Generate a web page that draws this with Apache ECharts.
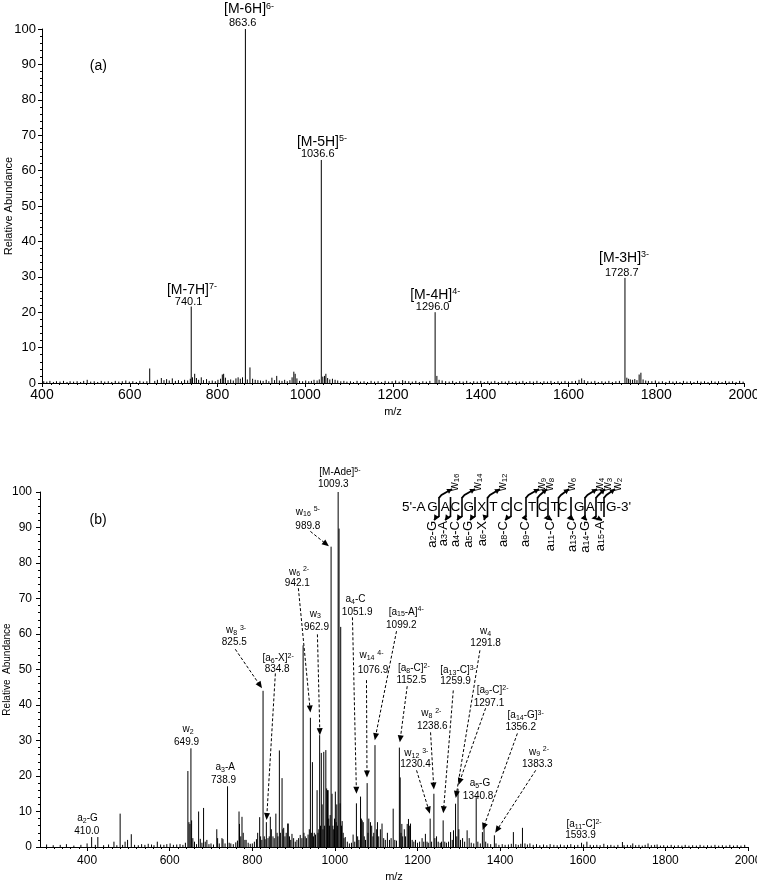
<!DOCTYPE html>
<html>
<head>
<meta charset="utf-8">
<script src="https://cdn.jsdelivr.net/npm/echarts@6/dist/echarts.min.js"></script>
<style>
html,body{margin:0;padding:0;background:#fff;}
#chart{width:757px;height:884px;}
</style>
</head>
<body>
<div id="chart"></div>
<script>
const FONT = '"Liberation Sans", Arial, Helvetica, sans-serif';

// ================= DATA: panel (a) =================
const xTicksA = [400, 600, 800, 1000, 1200, 1400, 1600, 1800, 2000];
const yTicks = [0, 10, 20, 30, 40, 50, 60, 70, 80, 90, 100];
const mainPeaksA = [[740.1, 21.6], [863.6, 100], [1036.6, 63], [1296.0, 20], [1728.7, 29.7]];
const minorPeaksA = [[645.5, 4.1], [874, 4.4], [974, 3.2], [1765, 2.9], [1761, 2.4], [748, 2.6], [814, 2.6], [1047, 2.6]];
const noiseA = [
[404,0.5],[411,0.4],[418,0.6],[426,0.3],[433,0.5],[441,0.4],[449,0.6],[457,0.3],[464,0.5],[472,0.4],
[480,0.5],[488,0.3],[495,0.6],[503,0.9],[511,0.4],[519,0.5],[527,0.3],[535,0.6],[543,0.4],[551,0.5],
[559,0.3],[567,0.6],[575,0.4],[583,0.5],[591,0.7],[599,0.4],[607,0.5],[615,0.3],[623,0.6],[631,0.4],
[639,0.5],[657,0.6],[663,0.9],[672,1.4],[678,0.8],[684,1.1],[690,0.7],[697,1.3],[704,0.6],[711,0.8],
[718,0.5],[725,0.9],[732,0.7],[738,1.2],[743,1.6],[752,1.4],[757,0.9],[763,1.6],[768,0.8],[775,1.1],
[781,0.6],[788,0.7],[795,0.5],[801,0.9],[807,1.2],[811,2.4],[818,1.5],[824,0.8],[830,1.0],[836,0.7],
[842,1.3],[847,1.6],[852,1.2],[857,1.6],[868,1.0],[880,1.2],[886,0.9],[892,0.8],[898,0.7],[904,0.6],
[911,0.9],[917,0.5],[924,1.5],[930,0.8],[935,2.0],[941,0.7],[947,0.6],[953,0.9],[959,0.5],[965,0.8],
[970,1.6],[977,2.6],[981,1.3],[987,0.6],[994,0.5],[1001,0.7],[1008,0.5],[1014,0.6],[1020,0.9],[1027,0.7],
[1032,1.0],[1040,1.8],[1044,2.0],[1051,1.4],[1056,1.0],[1062,1.2],[1068,0.9],[1074,0.7],[1081,0.5],[1088,0.6],
[1095,0.4],[1103,0.5],[1110,0.3],[1118,0.6],[1126,0.4],[1134,0.5],[1142,0.3],[1150,0.6],[1158,0.4],[1166,0.5],
[1174,0.3],[1182,0.6],[1190,0.4],[1198,0.5],[1206,0.7],[1214,0.4],[1222,0.8],[1228,0.6],[1236,0.5],[1244,0.4],
[1252,0.6],[1260,0.3],[1268,0.5],[1276,0.4],[1284,0.6],[1300,2.0],[1305,0.9],[1312,0.7],[1320,0.5],[1328,0.4],
[1336,0.6],[1344,0.3],[1352,0.5],[1360,0.4],[1368,0.6],[1376,0.3],[1384,0.5],[1392,0.4],[1400,0.6],[1408,0.3],
[1416,0.5],[1424,0.4],[1432,0.6],[1440,0.3],[1448,0.5],[1456,0.4],[1464,0.6],[1472,0.3],[1480,0.5],[1488,0.4],
[1496,0.6],[1504,0.3],[1512,0.5],[1520,0.4],[1528,0.6],[1536,0.3],[1544,0.5],[1552,0.4],[1560,0.6],[1568,0.3],
[1576,0.5],[1584,0.4],[1592,0.6],[1600,0.4],[1608,0.5],[1616,0.6],[1624,0.9],[1630,1.3],[1636,0.8],[1644,0.5],
[1652,0.4],[1660,0.6],[1668,0.3],[1676,0.5],[1684,0.4],[1692,0.6],[1700,0.3],[1708,0.5],[1716,0.6],[1733,1.5],
[1737,1.2],[1741,1.0],[1746,0.9],[1751,1.1],[1756,0.8],[1770,1.0],[1776,0.7],[1782,0.6],[1790,0.5],[1798,0.7],
[1806,0.4],[1814,0.5],[1822,0.3],[1830,0.6],[1838,0.4],[1846,0.5],[1854,0.3],[1862,0.6],[1870,0.4],[1878,0.5],
[1886,0.3],[1894,0.6],[1902,0.4],[1910,0.5],[1918,0.3],[1926,0.6],[1934,0.4],[1942,0.5],[1950,0.3],[1958,0.6],
[1966,0.4],[1974,0.5],[1982,0.3],[1990,0.6],[1998,0.4]
];
const ionTextA = ['[M-7H]{sup|7-}', '[M-6H]{sup|6-}', '[M-5H]{sup|5-}', '[M-4H]{sup|4-}', '[M-3H]{sup|3-}'];
const valTextA = ['740.1', '863.6', '1036.6', '1296.0', '1728.7'];

// ================= DATA: panel (b) =================
const xTicksB = [400, 600, 800, 1000, 1200, 1400, 1600, 1800, 2000];
const peaksB = [
[302,0.7],[318,0.5],[335,0.6],[350,0.8],[368,0.4],[385,0.6],[400,1.0],[411,2.8],[420,0.6],[426,2.8],
[440,0.5],[452,0.7],[465,1.5],[472,0.5],[480,9.4],[486,0.6],[492,1.5],[498,2.0],[507,3.6],[515,0.6],
[524,0.5],[532,0.8],[540,0.6],[548,0.9],[556,0.7],[562,0.5],[570,1.5],[578,0.7],[586,0.6],[593,0.8],
[601,1.0],[609,0.6],[617,0.7],[625,0.8],[632,0.6],[638,1.2],[644,21.4],[646.5,7.0],[649,6.5],[651.4,27.8],
[653,7.5],[656,2.5],[660,1.5],[665,0.8],[670,10.0],[674,2.3],[678,1.2],[682,11.0],[686,1.5],[690,2.0],
[695,0.8],[700,1.0],[706,0.7],[714,5.0],[716,2.5],[720,1.0],[726.5,2.5],[729,2.2],[734,1.0],[740,17.1],
[744,1.2],[748,1.0],[754,0.8],[760,1.3],[764,1.8],[767.8,10.0],[769,6.5],[772,3.0],[775,8.5],[778,4.0],
[782,2.0],[785,2.0],[790,1.2],[795,0.9],[800,1.0],[805,1.5],[810,2.2],[813,4.0],[817.8,8.4],[820,3.0],
[823,2.0],[826,44.0],[829,3.0],[831,2.2],[834,7.0],[838,2.5],[841,3.0],[843.6,8.5],[846,5.0],[850,3.0],
[853,2.5],[857,9.4],[860,4.0],[862,3.0],[865.5,27.2],[868,4.0],[872,19.4],[874,5.0],[876,5.4],[879,3.0],
[882,4.0],[885.6,6.6],[887,6.6],[890,3.0],[893,2.0],[896,3.7],[900,2.5],[904,1.5],[908,2.0],[912,2.5],
[916,3.4],[920,2.5],[923,56.8],[925,4.0],[928,3.0],[931,2.5],[935,3.5],[938,5.0],[940.6,36.4],[943,4.0],
[945.5,23.9],[948,3.0],[950,4.0],[953,3.5],[956.8,16.0],[959,4.0],[961,5.0],[963,31.5],[965,6.0],[967,26.5],
[969,12.0],[971,5.0],[973,26.8],[975,6.0],[978,27.3],[980,16.5],[982,16.0],[983.5,16.0],[985,8.0],[987,6.0],
[988.5,9.0],[990.7,84.6],[993,15.0],[995,6.0],[997,5.0],[999,8.0],[1001,15.6],[1003,7.0],[1004.5,12.0],[1006,6.0],
[1007.8,100],[1010,89.7],[1012.6,12.3],[1014,62.0],[1016,6.0],[1017.5,7.3],[1020,4.0],[1022,2.5],[1025,2.8],[1030,1.5],
[1035,1.0],[1040,1.2],[1044,3.5],[1048,1.5],[1052,12.3],[1055,3.0],[1058,2.0],[1062,14.2],[1064,8.0],[1066,7.5],
[1068.5,7.0],[1071,3.0],[1074,2.0],[1078,18.0],[1080,4.0],[1082,8.0],[1086,7.0],[1089,6.0],[1092,3.0],[1094,4.0],
[1097,28.7],[1101,5.0],[1103,7.0],[1106,3.0],[1110,5.0],[1114,6.6],[1118,2.5],[1122,2.0],[1127,4.0],[1132,2.0],
[1136,2.5],[1141,10.8],[1145,2.0],[1149,1.8],[1156,28.0],[1158,19.6],[1160,4.0],[1162,6.5],[1164,3.0],[1168,5.0],
[1171,3.0],[1175,6.5],[1178,7.9],[1181,6.0],[1183,6.6],[1187,2.0],[1191,1.5],[1195,2.0],[1200,1.2],[1205,1.5],
[1211,2.5],[1215,1.5],[1219,3.7],[1223,1.5],[1226,1.2],[1230.5,8.0],[1234,1.5],[1239.6,15.0],[1242,2.5],[1246,3.0],
[1250,1.5],[1255,1.2],[1258,1.5],[1262,7.5],[1266,1.5],[1270,1.2],[1275,1.5],[1280,4.2],[1284,2.0],[1287,4.7],
[1292,12.2],[1295,3.0],[1298,16.4],[1300,5.0],[1304,2.0],[1309,2.5],[1314,1.5],[1320,4.7],[1325,2.5],[1330,1.2],
[1336,1.0],[1342,14.0],[1346,1.5],[1352,1.0],[1357,4.2],[1361,5.5],[1365,1.5],[1370,1.0],[1377,0.8],[1386,3.3],
[1390,1.0],[1397,0.6],[1405,0.8],[1412,0.6],[1420,0.7],[1427,0.9],[1432,4.2],[1438,0.8],[1444,0.6],[1450,0.9],
[1454,5.4],[1460,1.0],[1466,0.7],[1472,1.0],[1480,0.6],[1488,0.8],[1496,0.5],[1505,0.7],[1513,0.5],[1521,0.8],
[1530,0.6],[1538,0.5],[1546,0.7],[1555,0.5],[1563,0.6],[1571,0.8],[1580,0.5],[1588,0.6],[1597,1.2],[1602,0.7],
[1610,1.5],[1618,0.6],[1626,0.5],[1634,0.6],[1642,0.5],[1651,0.9],[1660,0.5],[1668,0.6],[1676,0.4],[1685,0.6],
[1696,1.4],[1700,0.5],[1708,0.6],[1716,0.5],[1721,1.0],[1728,0.5],[1736,0.6],[1744,0.4],[1751,0.6],[1758,1.0],
[1766,0.5],[1774,0.6],[1780,0.7],[1788,0.4],[1796,0.5],[1805,0.4],[1814,0.6],[1822,0.4],[1831,0.5],[1840,0.4],
[1848,0.6],[1857,0.4],[1866,0.5],[1875,0.4],[1884,0.6],[1893,0.4],[1902,0.5],[1911,0.4],[1920,0.6],[1929,0.4],
[1938,0.5],[1947,0.4],[1956,0.6],[1965,0.4],[1974,0.5],[1983,0.4],[1992,0.6]
];
const ionTextB = ['[M-Ade]{sup|5-}','w{sub|16} {sup|5-}','w{sub|6} {sup|2-}','w{sub|3}','a{sub|4}-C','w{sub|14} {sup|4-}',
  '[a{sub|15}-A]{sup|4-}','[a{sub|8}-C]{sup|2-}','[a{sub|13}-C]{sup|3-}','w{sub|4}','[a{sub|9}-C]{sup|2-}','w{sub|8} {sup|2-}',
  'w{sub|12} {sup|3-}','a{sub|5}-G','[a{sub|14}-G]{sup|3-}','w{sub|9} {sup|2-}','[a{sub|11}-C]{sup|2-}','w{sub|8} {sup|3-}',
  '[a{sub|6}-X]{sup|2-}','w{sub|2}','a{sub|3}-A','a{sub|2}-G'];
const valTextB = ['1009.3','989.8','942.1','962.9','1051.9','1076.9','1099.2','1152.5','1259.9','1291.8','1297.1','1238.6',
  '1230.4','1340.8','1356.2','1383.3','1593.9','825.5','834.8','649.9','738.9','410.0'];

// Sequence inset
const seqText = ["5'-A","G","A","C","G","X","T","C","C","T","C","T","C","G","A","T","G-3'"];
const wFrag = ['w{sub|16}','w{sub|14}','w{sub|12}','w{sub|9}','w{sub|8}','w{sub|6}','w{sub|4}','w{sub|3}','w{sub|2}'];
const aFrag = ['a{sub|2}-G','a{sub|3}-A','a{sub|4}-C','a{sub|5}-G','a{sub|6}-X','a{sub|8}-C','a{sub|9}-C','a{sub|11}-C','a{sub|13}-C','a{sub|14}-G','a{sub|15}-A'];

// ================= LAYOUT (positions in data units / pixels) =================
const ionPosA = [[741.8,26.2],[871.9,105.5],[1038,68.1],[1296.1,24.8],[1726.7,35.2]];
const valPosA = [[734.0,22.9],[857.5,101.7],[1028.4,64.6],[1290.4,21.5],[1721.5,31.1]];
const tagPosA = [528.3, 89.4];
const ionPosB = [[1012,105.5],[934.5,94.4],[913.2,77.5],[952.7,65.7],[1049.7,69.7],[1088.5,54.0],[1172.6,66.2],[1191,50.3],
  [1298.2,49.8],[1364.8,60.8],[1381.8,44.1],[1233.5,37.7],[1197.1,26.3],[1351,17.9],[1461.8,37.1],[1494,26.8],[1603.1,6.3],
  [760.7,61.0],[862.5,53.2],[644.4,33.1],[734.5,22.5],[401.2,8.0]];
const valPosB = [[996,102.3],[934.5,90.4],[909,74.4],[955.2,61.8],[1053.8,66.2],[1092.1,49.8],[1160.7,62.5],[1185,47.0],
  [1292.1,46.8],[1364.8,57.3],[1372.8,40.6],[1235.6,34.0],[1195.2,23.3],[1346.7,14.3],[1449.7,33.8],[1490,23.2],[1594.4,3.3],
  [756.4,57.6],[860.1,50.0],[640.7,29.4],[730.4,18.8],[399.3,4.4]];
const arrowB = [null,[[940.6,88.9],[985.4,84.7]],[[911.5,72.9],[940.6,37.9]],[[957.6,59.9],[963.6,31.5]],[[1042.4,64.7],[1052.1,15.0]],
  [[1076.4,47],[1077.6,19.6]],[[1149.1,60.8],[1096.5,30.1]],[[1175,45.3],[1157.1,29.5]],[[1286.5,44.1],[1262.3,9.5]],
  [[1351,55.4],[1292.5,13.8]],[[1364.8,39.1],[1299,17.5]],[[1231.5,32.3],[1239.5,16.2]],[[1197.6,21.6],[1229.8,9.4]],null,
  [[1441.7,32.0],[1357.5,4.8]],[[1486,21.6],[1388,4.0]],null,[[758.8,55.7],[823.5,44.7]],[[855.8,48.9],[834.5,7.6]],null,null,null];
const tagPosB = [426.7, 92.0];

const seqX = [402,432.5,445.3,455.3,468.7,481.7,493.3,505.3,518,532,542.5,554.5,562.5,579.2,590.3,601.2,606];
const seqY = 507;
const wSite = [439,462,487.5,526,537.5,558.5,585,596,604];
const wLabelX = [455,478,503,542,550,572,600,608,618];
const aSite = [439,450.5,462,475,487.5,511,526,548,571,585,596];
const aLabelX = [432,443,455,468,482,503,525,550,572,585,600];

// ================= RENDER =================
function head(p0, p1, L, W) {
  const dx = p1[0]-p0[0], dy = p1[1]-p0[1];
  const len = Math.sqrt(dx*dx+dy*dy) || 1;
  const ux = dx/len, uy = dy/len, nx = -uy, ny = ux;
  const bx = p1[0]-ux*L, by = p1[1]-uy*L;
  return [[p1[0],p1[1]],[bx+nx*W/2,by+ny*W/2],[bx-nx*W/2,by-ny*W/2]];
}

function stickSeries(data, xi, yi) {
  return {
    type: 'custom', xAxisIndex: xi, yAxisIndex: yi, data: data, silent: true, clip: true,
    renderItem: function (params, api) {
      const x = api.value(0), y = api.value(1);
      const p0 = api.coord([x, 0]), p1 = api.coord([x, y]);
      return { type: 'line', shape: { x1: p0[0], y1: p0[1], x2: p1[0], y2: p1[1] },
        style: { stroke: '#000', lineWidth: 1 } };
    }
  };
}

function annSeries(ionT, valT, ionP, valP, arrows, xi, yi, f) {
  const rich = {
    sup: { fontSize: f.sup, fontFamily: FONT, verticalAlign: 'top', fill: '#000' },
    sub: { fontSize: f.sup, fontFamily: FONT, verticalAlign: 'bottom', fill: '#000' }
  };
  return {
    type: 'custom', xAxisIndex: xi, yAxisIndex: yi, data: ionP, silent: true, clip: false, z: 5,
    renderItem: function (params, api) {
      const i = params.dataIndex;
      const ci = api.coord(ionP[i]), cv = api.coord(valP[i]);
      const ch = [
        { type: 'text', x: ci[0], y: ci[1], style: { text: ionT[i], fontFamily: FONT, fontSize: f.ion,
            lineHeight: f.ion + 2, fill: '#000', align: 'center', verticalAlign: 'middle', rich: rich } },
        { type: 'text', x: cv[0], y: cv[1], style: { text: valT[i], fontFamily: FONT, fontSize: f.val,
            fill: '#000', align: 'center', verticalAlign: 'middle' } }
      ];
      const a = arrows && arrows[i];
      if (a) {
        const p0 = api.coord(a[0]), p1 = api.coord(a[1]);
        const h = head(p0, p1, 7, 6);
        const dx = p1[0]-p0[0], dy = p1[1]-p0[1], len = Math.sqrt(dx*dx+dy*dy);
        const e = [p1[0]-dx/len*6, p1[1]-dy/len*6];
        ch.push({ type: 'line', shape: { x1: p0[0], y1: p0[1], x2: e[0], y2: e[1] },
          style: { stroke: '#000', lineWidth: 1, lineDash: [3, 2] } });
        ch.push({ type: 'polygon', shape: { points: h }, style: { fill: '#000' } });
      }
      return { type: 'group', children: ch };
    }
  };
}

function tagSeries(pos, text, xi, yi) {
  return {
    type: 'custom', xAxisIndex: xi, yAxisIndex: yi, data: [pos], silent: true, clip: false,
    renderItem: function (params, api) {
      const c = api.coord(pos);
      return { type: 'text', x: c[0], y: c[1], style: { text: text, fontFamily: FONT, fontSize: 14,
        fill: '#000', align: 'center', verticalAlign: 'middle' } };
    }
  };
}

const minorTicksB = [];
for (let v = 300; v <= 2000; v += 20) minorTicksB.push(v);

const plain = function (v) { return String(v); };
const axisCommon = {
  axisLine: { show: true, lineStyle: { color: '#000', width: 1 } },
  axisTick: { show: true, length: 4, lineStyle: { color: '#000' } },
  splitLine: { show: false }
};

// inset graphic
const g = [];
const richSeq = { sub: { fontSize: 8, fontFamily: FONT, verticalAlign: 'bottom', fill: '#000' } };
seqText.forEach(function (t, i) {
  g.push({ type: 'text', x: seqX[i], y: seqY, style: { text: t, fontFamily: FONT, fontSize: 13.5, fill: '#000',
    align: (i === 0 || i === seqText.length - 1) ? 'left' : 'center', verticalAlign: 'middle' } });
});
const sites = Array.from(new Set(wSite.concat(aSite)));
sites.forEach(function (b) {
  g.push({ type: 'line', shape: { x1: b, y1: 497, x2: b, y2: 517 }, style: { stroke: '#000', lineWidth: 1.6 } });
});
wSite.forEach(function (b, i) {
  const p1 = [wLabelX[i] - 3, 489];
  g.push({ type: 'polyline', shape: { points: [[b, 497.8], [b + 2.5, 495], p1] }, style: { stroke: '#000', lineWidth: 1.8, fill: null } });
  g.push({ type: 'polygon', shape: { points: head([b + 2.5, 495], p1, 5, 5.5) }, style: { fill: '#000' } });
  g.push({ type: 'text', x: wLabelX[i], y: 491, rotation: Math.PI / 2,
    style: { text: wFrag[i], fontFamily: FONT, fontSize: 12, fill: '#000', align: 'left', verticalAlign: 'middle', rich: richSeq } });
});
aSite.forEach(function (b, i) {
  const p1 = [aLabelX[i] + 2, 520];
  g.push({ type: 'polyline', shape: { points: [[b, 516.2], [b - 2.5, 518], p1] }, style: { stroke: '#000', lineWidth: 1.8, fill: null } });
  g.push({ type: 'polygon', shape: { points: head([b - 2.5, 516], p1, 5, 5.5) }, style: { fill: '#000' } });
  g.push({ type: 'text', x: aLabelX[i], y: 521, rotation: Math.PI / 2,
    style: { text: aFrag[i], fontFamily: FONT, fontSize: 13, fill: '#000', align: 'right', verticalAlign: 'middle', rich: { sub: { fontSize: 9, fontFamily: FONT, verticalAlign: 'bottom', fill: '#000' } } } });
});

const option = {
  backgroundColor: '#fff',
  animation: false,
  textStyle: { fontFamily: FONT },
  grid: [
    { left: 42, right: 13, top: 29, height: 354, containLabel: false, outerBoundsMode: 'none' },
    { left: 40, right: 9, top: 492, height: 355, containLabel: false, outerBoundsMode: 'none' }
  ],
  xAxis: [
    Object.assign({}, axisCommon, {
      gridIndex: 0, type: 'value', min: 400, max: 2000, interval: 200, position: 'bottom',
      minorTick: { show: true, splitNumber: 10, length: 2, lineStyle: { color: '#000' } },
      axisLabel: { fontSize: 14, color: '#000', fontFamily: FONT, margin: 5, formatter: plain },
      name: 'm/z', nameLocation: 'middle', nameGap: 23, nameMoveOverlap: false,
      nameTextStyle: { fontSize: 11, color: '#000', fontFamily: FONT }
    }),
    Object.assign({}, axisCommon, {
      gridIndex: 1, type: 'value', min: 286, max: 2000, position: 'bottom',
      axisTick: { show: true, length: 4, lineStyle: { color: '#000' }, customValues: xTicksB },
      axisLabel: { fontSize: 12, color: '#000', fontFamily: FONT, margin: 8, customValues: xTicksB, formatter: plain },
      name: 'm/z', nameLocation: 'middle', nameGap: 24, nameMoveOverlap: false,
      nameTextStyle: { fontSize: 11, color: '#000', fontFamily: FONT }
    }),
    {
      gridIndex: 1, type: 'value', min: 286, max: 2000, position: 'bottom', offset: 0,
      axisLine: { show: false }, axisLabel: { show: false }, splitLine: { show: false },
      axisTick: { show: true, length: 2, lineStyle: { color: '#000' }, customValues: minorTicksB }
    }
  ],
  yAxis: [
    Object.assign({}, axisCommon, {
      gridIndex: 0, type: 'value', min: 0, max: 100, interval: 10,
      minorTick: { show: true, splitNumber: 5, length: 2, lineStyle: { color: '#000' } },
      axisLabel: { fontSize: 13, color: '#000', fontFamily: FONT, margin: 6, formatter: plain },
      name: 'Relative Abundance', nameLocation: 'middle', nameGap: 28, nameRotate: 90, nameMoveOverlap: false,
      nameTextStyle: { fontSize: 11, color: '#000', fontFamily: FONT }
    }),
    Object.assign({}, axisCommon, {
      gridIndex: 1, type: 'value', min: 0, max: 100, interval: 10,
      minorTick: { show: true, splitNumber: 5, length: 2, lineStyle: { color: '#000' } },
      axisLabel: { fontSize: 12, color: '#000', fontFamily: FONT, margin: 8, formatter: plain },
      name: 'Relative  Abundance', nameLocation: 'middle', nameGap: 28, nameRotate: 90, nameMoveOverlap: false,
      nameTextStyle: { fontSize: 10, color: '#000', fontFamily: FONT }
    })
  ],
  series: [
    stickSeries(noiseA, 0, 0),
    stickSeries(minorPeaksA, 0, 0),
    stickSeries(mainPeaksA, 0, 0),
    annSeries(ionTextA, valTextA, ionPosA, valPosA, null, 0, 0, { ion: 14, val: 11, sup: 9 }),
    tagSeries(tagPosA, '(a)', 0, 0),
    stickSeries(peaksB, 1, 1),
    annSeries(ionTextB, valTextB, ionPosB, valPosB, arrowB, 1, 1, { ion: 10, val: 10, sup: 7 }),
    tagSeries(tagPosB, '(b)', 1, 1)
  ],
  graphic: g
};

const chart = echarts.init(document.getElementById('chart'));
chart.setOption(option);
</script>
</body>
</html>
